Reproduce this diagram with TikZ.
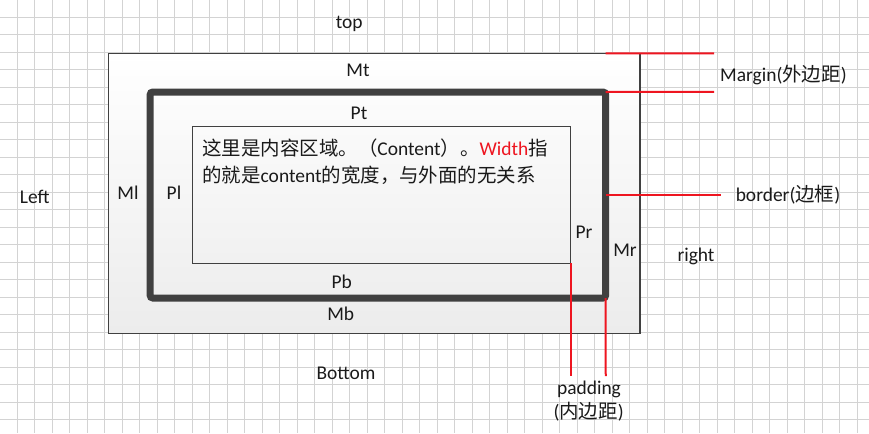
\documentclass[tikz,border=0pt]{standalone}
\usepackage{fontspec}
\setmainfont{Carlito}
\newfontfamily\cjk{Noto Sans CJK SC}
\usetikzlibrary{positioning}
\definecolor{Grid}{HTML}{D3D3D3}
\definecolor{Frame}{HTML}{404040}
\definecolor{Red}{HTML}{EE1520}
\definecolor{Shade}{HTML}{ECECEC}
\definecolor{Ink}{HTML}{1A1A1A}

\begin{document}
\begin{tikzpicture}[x=0.75pt, y=-0.75pt, every node/.style={font=\fontsize{14.6}{18}\selectfont, text=Ink, inner sep=0pt},
  box/.style={draw=Frame, inner sep=0pt, outer sep=0pt},
  gridline/.style={draw=Grid, line width=0.75pt},
  redline/.style={draw=Red, line width=1.5pt}]
\useasboundingbox (0,0) rectangle (869,433);
% grid paper
\foreach \i in {1,...,49} \draw[gridline] (17.5*\i-0.2,0) -- (17.5*\i-0.2,433);
\foreach \j in {1,...,24} \draw[gridline] (0,17.5*\j-0.2) -- (869,17.5*\j-0.2);
% the three boxes
\node[box, line width=0.8pt, top color=white, bottom color=Shade, minimum width=398.6pt, minimum height=209.8pt] (outer) at (374.25,193.2) {};
\node[box, line width=5.25pt, rounded corners=2pt, minimum width=341.6pt, minimum height=154.5pt] (bordr) at (377.9,195) {};
\node[box, line width=0.6pt, minimum width=283.8pt, minimum height=103pt] (content) at (381.5,194.65) {};
% content text
\node[anchor=base west] (cline1) at (202,155) {{\cjk 这里是内容区域。（}Content{\cjk ）。}\textcolor{Red}{Width}{\cjk 指}};
\node[anchor=base west] (cline2) at (202,182.7) {{\cjk 的就是}content{\cjk 的宽度，与外面的无关系}};
% labels
\node[anchor=base] (toplbl) at (349.3,28.3) {top};
\node[anchor=base] (mtlbl) at (358,76) {Mt};
\node[anchor=base] (ptlbl) at (359,119.5) {Pt};
\node[anchor=base] (leftlbl) at (34.7,203.3) {Left};
\node[anchor=base] (mllbl) at (128,199.3) {Ml};
\node[anchor=base] (pllbl) at (174,199.3) {Pl};
\node[anchor=base] (prlbl) at (584,238.3) {Pr};
\node[anchor=base] (mrlbl) at (625,256.7) {Mr};
\node[anchor=base] (rightlbl) at (696,261.7) {right};
\node[anchor=base] (pblbl) at (341.7,288.3) {Pb};
\node[anchor=base] (mblbl) at (340.7,320) {Mb};
\node[anchor=base] (bottomlbl) at (346,379.3) {Bottom};
\node[anchor=base] (marginlbl) at (783.5,81.7) {Margin({\cjk 外边距})};
\node[anchor=base] (borderlbl) at (788,201.7) {border({\cjk 边框})};
\node[anchor=base] (padlbl) at (589,394) {padding};
\node[anchor=base] (padcjk) at (588.7,418) {({\cjk 内边距})};
% red marker lines
\coordinate (mtop) at (714,53.3);
\coordinate (mbot) at (714,91.8);
\coordinate (bend) at (721,195);
\coordinate (pend) at (570.7,376);
\coordinate (bsend) at (605.75,376);
\draw[redline] (bordr.east |- outer.north) -- (mtop);
\draw[redline] (bordr.north east) -- (mbot);
\draw[redline] (bordr.east) -- (bend);
\draw[redline] (content.south east) -- (pend);
\draw[redline] (bordr.south east) -- (bsend);
\end{tikzpicture}
\end{document}
